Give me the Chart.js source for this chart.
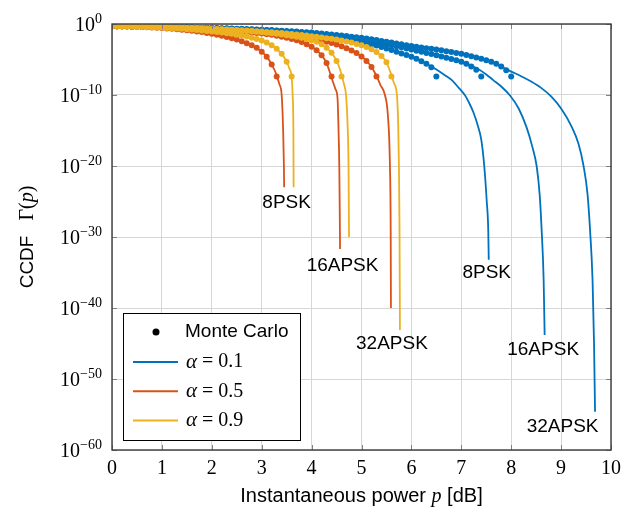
<!DOCTYPE html>
<html>
<head>
<meta charset="utf-8">
<script src="https://cdn.jsdelivr.net/npm/chart.js@4.4.1/dist/chart.umd.min.js"></script>
<style>
  html, body { margin: 0; padding: 0; background: #fff; }
</style>
</head>
<body>
<canvas id="myChart" width="636" height="510"></canvas>
<script>
// colours per roll-off factor
const blue = '#0072BD', red = '#D95319', yellow = '#EDB120';

// Monte Carlo power grid [dB]
const mcPower = [0,0.1,0.2,0.3,0.4,0.5,0.6,0.7,0.8,0.9,1,1.1,1.2,1.3,1.4,1.5,1.6,1.7,1.8,1.9,2,2.1,2.2,2.3,2.4,2.5,2.6,2.7,2.8,2.9,3,3.1,3.2,3.3,3.4,3.5,3.6,3.7,3.8,3.9,4,4.1,4.2,4.3,4.4,4.5,4.6,4.7,4.8,4.9,5,5.1,5.2,5.3,5.4,5.5,5.6,5.7,5.8,5.9,6,6.1,6.2,6.3,6.4,6.5,6.6,6.7,6.8,6.9,7,7.1,7.2,7.3,7.4,7.5,7.6,7.7,7.8,7.9,8];

// Monte Carlo CCDF, stored as log10 values (alpha = 0.1 / 0.5 / 0.9)
const mcB8 = [-0.30,-0.31,-0.32,-0.33,-0.34,-0.36,-0.37,-0.38,-0.40,-0.41,-0.42,-0.44,-0.46,-0.48,-0.49,-0.51,-0.53,-0.55,-0.58,-0.60,-0.62,-0.65,-0.67,-0.70,-0.73,-0.76,-0.80,-0.83,-0.87,-0.91,-0.95,-0.99,-1.04,-1.09,-1.14,-1.19,-1.25,-1.31,-1.37,-1.43,-1.50,-1.58,-1.66,-1.75,-1.84,-1.94,-2.05,-2.17,-2.29,-2.42,-2.55,-2.70,-2.86,-3.04,-3.24,-3.45,-3.67,-3.90,-4.15,-4.37,-4.60,-4.90,-5.25,-5.60,-6.10,-7.40];
const mcB16 = [-0.30,-0.31,-0.32,-0.33,-0.34,-0.35,-0.36,-0.38,-0.39,-0.40,-0.41,-0.43,-0.44,-0.46,-0.48,-0.49,-0.51,-0.53,-0.55,-0.56,-0.58,-0.60,-0.63,-0.65,-0.67,-0.70,-0.73,-0.76,-0.79,-0.82,-0.85,-0.89,-0.92,-0.96,-1.00,-1.04,-1.09,-1.14,-1.19,-1.24,-1.30,-1.37,-1.44,-1.52,-1.60,-1.69,-1.78,-1.88,-1.98,-2.09,-2.20,-2.32,-2.44,-2.57,-2.71,-2.85,-3.00,-3.14,-3.29,-3.44,-3.60,-3.75,-3.91,-4.07,-4.23,-4.40,-4.57,-4.75,-4.93,-5.11,-5.30,-5.60,-6.00,-6.45,-7.40];
const mcB32 = [-0.30,-0.31,-0.32,-0.33,-0.34,-0.35,-0.36,-0.37,-0.38,-0.39,-0.40,-0.41,-0.43,-0.44,-0.45,-0.47,-0.49,-0.50,-0.52,-0.53,-0.55,-0.57,-0.59,-0.61,-0.63,-0.66,-0.68,-0.71,-0.74,-0.77,-0.80,-0.83,-0.86,-0.90,-0.94,-0.98,-1.02,-1.06,-1.11,-1.15,-1.20,-1.26,-1.33,-1.40,-1.47,-1.55,-1.62,-1.70,-1.78,-1.86,-1.95,-2.05,-2.16,-2.27,-2.38,-2.50,-2.62,-2.74,-2.86,-2.98,-3.10,-3.20,-3.30,-3.40,-3.50,-3.60,-3.71,-3.83,-3.95,-4.07,-4.20,-4.36,-4.53,-4.71,-4.90,-5.10,-5.33,-5.60,-6.00,-6.50,-7.40];
const mcR8 = [-0.30,-0.31,-0.33,-0.35,-0.37,-0.40,-0.43,-0.46,-0.50,-0.54,-0.58,-0.63,-0.68,-0.74,-0.80,-0.87,-0.95,-1.04,-1.14,-1.25,-1.37,-1.50,-1.65,-1.82,-2.00,-2.20,-2.43,-2.70,-3.00,-3.35,-3.90,-4.60,-5.70,-7.40];
const mcR16 = [-0.30,-0.31,-0.32,-0.33,-0.35,-0.36,-0.38,-0.40,-0.42,-0.44,-0.46,-0.48,-0.51,-0.53,-0.56,-0.59,-0.62,-0.65,-0.68,-0.72,-0.76,-0.80,-0.84,-0.89,-0.94,-0.99,-1.05,-1.11,-1.18,-1.26,-1.34,-1.43,-1.53,-1.65,-1.78,-1.93,-2.10,-2.30,-2.55,-2.85,-3.20,-3.70,-4.40,-5.50,-7.40];
const mcR32 = [-0.30,-0.31,-0.32,-0.33,-0.34,-0.35,-0.37,-0.39,-0.41,-0.43,-0.45,-0.47,-0.49,-0.51,-0.54,-0.57,-0.60,-0.63,-0.66,-0.69,-0.72,-0.76,-0.80,-0.84,-0.88,-0.92,-0.97,-1.02,-1.07,-1.13,-1.19,-1.25,-1.32,-1.39,-1.47,-1.55,-1.64,-1.73,-1.83,-1.94,-2.06,-2.19,-2.33,-2.49,-2.67,-2.88,-3.12,-3.40,-3.72,-4.10,-4.58,-5.20,-6.05,-7.40];
const mcY8 = [-0.29,-0.30,-0.31,-0.33,-0.35,-0.37,-0.39,-0.42,-0.45,-0.48,-0.51,-0.55,-0.59,-0.63,-0.68,-0.73,-0.78,-0.84,-0.90,-0.97,-1.04,-1.12,-1.20,-1.29,-1.39,-1.50,-1.62,-1.76,-1.92,-2.10,-2.32,-2.60,-3.00,-3.50,-4.20,-5.30,-7.40];
const mcY16 = [-0.29,-0.30,-0.31,-0.32,-0.33,-0.35,-0.36,-0.38,-0.40,-0.42,-0.44,-0.46,-0.48,-0.50,-0.53,-0.55,-0.58,-0.61,-0.64,-0.67,-0.70,-0.73,-0.77,-0.81,-0.85,-0.89,-0.94,-0.99,-1.04,-1.10,-1.16,-1.23,-1.30,-1.38,-1.47,-1.57,-1.68,-1.80,-1.94,-2.10,-2.28,-2.50,-2.85,-3.35,-4.05,-5.20,-7.40];
const mcY32 = [-0.29,-0.30,-0.31,-0.32,-0.33,-0.34,-0.35,-0.37,-0.39,-0.41,-0.43,-0.45,-0.47,-0.49,-0.51,-0.53,-0.56,-0.58,-0.61,-0.64,-0.67,-0.70,-0.73,-0.76,-0.80,-0.84,-0.88,-0.92,-0.96,-1.01,-1.06,-1.11,-1.16,-1.22,-1.28,-1.34,-1.41,-1.48,-1.55,-1.63,-1.71,-1.80,-1.89,-1.99,-2.09,-2.20,-2.32,-2.46,-2.62,-2.80,-3.00,-3.25,-3.55,-3.95,-4.50,-5.40,-7.40];

// analytical curves: power [dB] and log10 CCDF
const lnB8p = [0,1,2,3,4,5,5.5,6,6.3,6.5,6.65,6.81,6.95,7.07,7.17,7.24,7.33,7.4,7.46,7.51,7.54,7.55];
const lnB8e = [-0.30,-0.42,-0.62,-0.95,-1.50,-2.55,-3.45,-4.6,-5.6,-6.4,-7.1,-7.9,-9.0,-10,-11.3,-12.4,-14.3,-16.3,-20,-25,-29,-33.2];
const lnB16p = [0,1,2,3,4,5,6,6.5,7,7.3,7.5,7.64,7.8,7.98,8.15,8.31,8.42,8.51,8.57,8.61,8.65,8.67];
const lnB16e = [-0.30,-0.41,-0.58,-0.85,-1.30,-2.20,-3.6,-4.4,-5.3,-6.2,-7.1,-7.9,-8.8,-10.1,-11.9,-14.6,-17.2,-20,-24,-29,-36,-43.8];
const lnB32p = [0,1,2,3,4,5,6,6.5,7,7.5,7.74,8,8.2,8.4,8.6,8.8,9,9.2,9.35,9.45,9.53,9.58,9.63,9.66,9.68];
const lnB32e = [-0.30,-0.40,-0.55,-0.80,-1.20,-1.95,-3.1,-3.6,-4.2,-5.1,-5.8,-6.7,-7.35,-8.1,-9.0,-10.2,-11.9,-14.3,-16.9,-20,-24,-29,-36,-45,-54.6];
const lnR8p = [0,0.5,1,1.5,2,2.4,2.8,3,3.1,3.2,3.3,3.35,3.4,3.43,3.445,3.45];
const lnR8e = [-0.30,-0.40,-0.58,-0.87,-1.37,-2.0,-3.0,-3.9,-4.6,-5.7,-7.2,-8.4,-10,-15,-20,-23];
const lnR16p = [0,1,2,2.5,3,3.5,3.8,4,4.1,4.2,4.3,4.37,4.42,4.48,4.52,4.54,4.555,4.565,4.57];
const lnR16e = [-0.30,-0.46,-0.76,-0.99,-1.34,-1.93,-2.55,-3.2,-3.7,-4.4,-5.5,-6.9,-8.0,-9.2,-10.5,-15,-20,-27,-31.7];
const lnR32p = [0,1,2,3,3.5,4,4.5,4.8,5,5.1,5.2,5.3,5.38,5.47,5.53,5.57,5.585,5.59];
const lnR32e = [-0.30,-0.45,-0.72,-1.19,-1.55,-2.06,-2.88,-3.72,-4.58,-5.2,-6.05,-7.3,-8.6,-10,-13,-20,-29,-40];
const lnY8p = [0,0.5,1,1.5,2,2.5,2.8,3,3.2,3.4,3.5,3.55,3.6,3.62,3.635,3.64];
const lnY8e = [-0.29,-0.37,-0.51,-0.73,-1.04,-1.50,-1.92,-2.32,-3.0,-4.2,-5.3,-6.2,-7.5,-10,-15,-23];
const lnY16p = [0,1,2,2.5,3,3.5,4,4.2,4.3,4.4,4.5,4.55,4.6,4.65,4.69,4.72,4.74,4.75];
const lnY16e = [-0.29,-0.44,-0.70,-0.89,-1.16,-1.57,-2.28,-2.85,-3.35,-4.05,-5.2,-6.0,-7.1,-8.5,-10,-14,-20,-30];
const lnY32p = [0,1,2,3,4,4.5,5,5.2,5.4,5.5,5.6,5.65,5.71,5.735,5.75,5.762,5.77];
const lnY32e = [-0.29,-0.43,-0.67,-1.06,-1.71,-2.20,-3.0,-3.55,-4.5,-5.4,-7.2,-8.3,-10,-14,-20,-29,-43.1];

// axes
const xTicks = [0,1,2,3,4,5,6,7,8,9,10];
const yTickExp = [0,-10,-20,-30,-40,-50,-60];

// curve labels
const annoText = ['8PSK','16APSK','32APSK','8PSK','16APSK','32APSK'];
const annoP = [3.50,4.62,5.61,7.51,8.64,9.03];
const annoExp = [-25.2,-34.0,-45.0,-35.1,-45.9,-56.7];

const legendAlpha = ['0.1','0.5','0.9'];

function pts(px, ex) {
  return ex.map((e, i) => ({ x: px[i], y: Math.pow(10, e) }));
}
function curve(px, ex, color, order) {
  return { data: pts(px, ex), borderColor: color, borderWidth: 1.8, pointRadius: 0,
           cubicInterpolationMode: 'monotone', fill: false, order: order };
}
function dots(ex, color, order) {
  return { data: pts(mcPower, ex), showLine: false, pointRadius: 3, pointBorderWidth: 0,
           backgroundColor: color, borderColor: color, order: order };
}

const datasets = [
  curve(lnB8p, lnB8e, blue, 4), curve(lnB16p, lnB16e, blue, 4), curve(lnB32p, lnB32e, blue, 4),
  dots(mcB8, blue, 4), dots(mcB16, blue, 4), dots(mcB32, blue, 4),
  curve(lnR8p, lnR8e, red, 2), curve(lnR16p, lnR16e, red, 2), curve(lnR32p, lnR32e, red, 2),
  dots(mcR8, red, 2), dots(mcR16, red, 2), dots(mcR32, red, 2),
  curve(lnY8p, lnY8e, yellow, 0), curve(lnY16p, lnY16e, yellow, 0), curve(lnY32p, lnY32e, yellow, 0),
  dots(mcY8, yellow, 0), dots(mcY16, yellow, 0), dots(mcY32, yellow, 0)
];

const SERIF = '"Liberation Serif", "DejaVu Serif", serif';
const SANS = '"Liberation Sans", Arial, sans-serif';

// frame, tick labels, titles, legend and curve labels
const overlay = {
  id: 'overlay',
  afterDraw(chart) {
    const { ctx, chartArea: a, scales: { x, y } } = chart;
    ctx.save();
    // inner tick marks
    ctx.strokeStyle = '#808080';
    ctx.lineWidth = 1;
    ctx.beginPath();
    xTicks.forEach(v => {
      const px = Math.round(x.getPixelForValue(v)) + 0.5;
      ctx.moveTo(px, a.bottom); ctx.lineTo(px, a.bottom - 5);
      ctx.moveTo(px, a.top); ctx.lineTo(px, a.top + 5);
    });
    yTickExp.forEach(e => {
      const py = Math.round(y.getPixelForValue(Math.pow(10, e))) + 0.5;
      ctx.moveTo(a.left, py); ctx.lineTo(a.left + 5, py);
      ctx.moveTo(a.right, py); ctx.lineTo(a.right - 5, py);
    });
    ctx.stroke();
    // frame
    ctx.strokeStyle = '#3a3a3a';
    ctx.lineWidth = 1.4;
    ctx.strokeRect(a.left, a.top, a.right - a.left, a.bottom - a.top);

    ctx.fillStyle = '#000';
    // x tick labels
    ctx.font = '20px ' + SERIF;
    ctx.textAlign = 'center';
    ctx.textBaseline = 'alphabetic';
    xTicks.forEach(v => ctx.fillText(String(v), x.getPixelForValue(v), a.bottom + 24));
    // y tick labels 10^e
    yTickExp.forEach(e => {
      const py = y.getPixelForValue(Math.pow(10, e));
      const sup = e === 0 ? '0' : '\u2212' + String(-e);
      ctx.font = '14px ' + SERIF;
      const ws = ctx.measureText(sup).width;
      ctx.textAlign = 'right';
      ctx.fillText(sup, 102, py - 1);
      ctx.font = '20px ' + SERIF;
      ctx.fillText('10', 102 - ws, py + 7);
    });

    // axis titles
    ctx.textAlign = 'left';
    const xt = [['Instantaneous power ', '20px ' + SANS], ['p', 'italic 20px ' + SERIF], [' [dB]', '20px ' + SANS]];
    let w = 0;
    xt.forEach(t => { ctx.font = t[1]; w += ctx.measureText(t[0]).width; });
    let cx = (a.left + a.right) / 2 - w / 2;
    xt.forEach(t => { ctx.font = t[1]; ctx.fillText(t[0], cx, 502); cx += ctx.measureText(t[0]).width; });

    const yt = [['CCDF', '19px ' + SANS], ['   \u0393(', '20px ' + SERIF], ['p', 'italic 20px ' + SERIF], [')', '20px ' + SERIF]];
    w = 0;
    yt.forEach(t => { ctx.font = t[1]; w += ctx.measureText(t[0]).width; });
    ctx.save();
    ctx.translate(33, (a.top + a.bottom) / 2);
    ctx.rotate(-Math.PI / 2);
    cx = -w / 2;
    yt.forEach(t => { ctx.font = t[1]; ctx.fillText(t[0], cx, 0); cx += ctx.measureText(t[0]).width; });
    ctx.restore();

    // curve labels
    ctx.font = '19px ' + SANS;
    ctx.textAlign = 'center';
    ctx.textBaseline = 'middle';
    annoText.forEach((t, i) => {
      ctx.fillText(t, x.getPixelForValue(annoP[i]), y.getPixelForValue(Math.pow(10, annoExp[i])));
    });

    // legend
    const lx = 123, ly = 313, lw = 177, lh = 127;
    ctx.fillStyle = '#fff';
    ctx.fillRect(lx, ly, lw, lh);
    ctx.strokeStyle = '#000';
    ctx.lineWidth = 1;
    ctx.strokeRect(lx + 0.5, ly + 0.5, lw, lh);
    ctx.fillStyle = '#000';
    ctx.beginPath();
    ctx.arc(156, 332, 3.5, 0, Math.PI * 2);
    ctx.fill();
    ctx.textAlign = 'left';
    ctx.textBaseline = 'middle';
    ctx.font = '19px ' + SANS;
    ctx.fillText('Monte Carlo', 185, 332);
    [blue, red, yellow].forEach((c, i) => {
      const ry = 362 + i * 29.3;
      ctx.strokeStyle = c;
      ctx.lineWidth = 2;
      ctx.beginPath();
      ctx.moveTo(133, ry); ctx.lineTo(178, ry);
      ctx.stroke();
      ctx.fillStyle = '#000';
      ctx.font = 'italic 21px ' + SERIF;
      ctx.fillText('\u03b1', 186, ry);
      const wa = ctx.measureText('\u03b1').width;
      ctx.font = '20px ' + SERIF;
      ctx.fillText(' = ' + legendAlpha[i], 186 + wa, ry);
    });
    ctx.restore();
  }
};

const ctx = document.getElementById('myChart').getContext('2d');
const chart = new Chart(ctx, {
  type: 'line',
  data: { datasets: datasets },
  options: {
    responsive: false,
    animation: false,
    events: [],
    layout: { padding: { left: 112, right: 25, top: 24, bottom: 60 } },
    plugins: { legend: { display: false }, tooltip: { enabled: false } },
    scales: {
      x: {
        type: 'linear', min: 0, max: 10,
        afterBuildTicks: s => { s.ticks = xTicks.map(v => ({ value: v })); },
        ticks: { display: false },
        grid: { color: '#d6d6d6', lineWidth: 1, drawTicks: false },
        border: { display: false }
      },
      y: {
        type: 'logarithmic', min: 1e-60, max: 1,
        afterBuildTicks: s => { s.ticks = yTickExp.map(e => ({ value: Math.pow(10, e) })); },
        ticks: { display: false },
        grid: { color: '#d6d6d6', lineWidth: 1, drawTicks: false },
        border: { display: false }
      }
    }
  },
  plugins: [overlay]
});
</script>
</body>
</html>
